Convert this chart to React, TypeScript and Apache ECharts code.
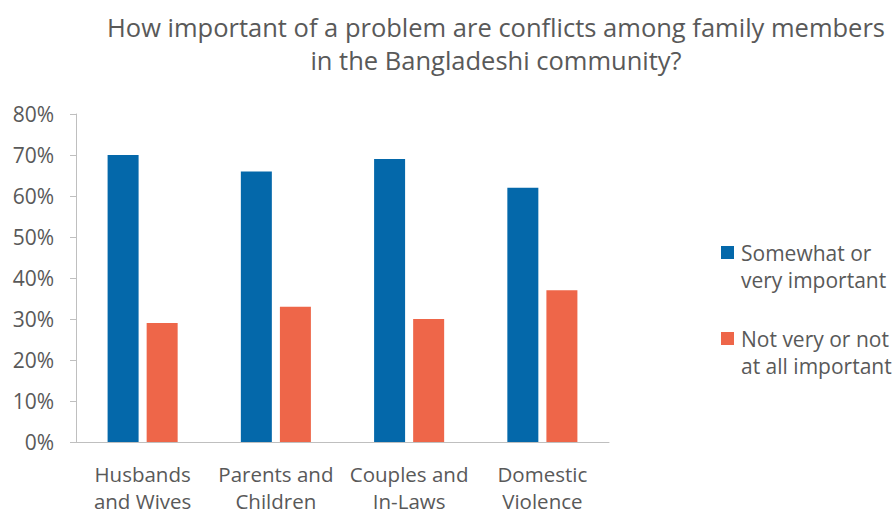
import React, { useEffect, useRef } from "react";
import * as echarts from "echarts";

const titleLines = [
  "How important of a problem are conflicts among family members",
  "in the Bangladeshi community?",
];
const categories = [
  "Husbands\nand Wives",
  "Parents and\nChildren",
  "Couples and\nIn-Laws",
  "Domestic\nViolence",
];
const seriesNames = [
  "Somewhat or\nvery important",
  "Not very or not\nat all important",
];
const importantValues = [70, 66, 69, 62];
const notImportantValues = [29, 33, 30, 37];
const seriesColors = ["#0468AA", "#EE6649"];
const yTicks = [0, 10, 20, 30, 40, 50, 60, 70, 80];

const FONT = "'Open Sans', sans-serif";
const TEXT = "#595959";

export default function App() {
  const ref = useRef<HTMLDivElement>(null);
  useEffect(() => {
    if (!ref.current) return;
    const chart = echarts.init(ref.current, undefined, { renderer: "svg" });
    const legendItems: any[] = [];
    seriesNames.forEach((name, i) => {
      const top = 246 + i * 86;
      legendItems.push({
        type: "rect",
        left: 721,
        top,
        shape: { width: 13, height: 13 },
        style: { fill: seriesColors[i] },
      });
      legendItems.push({
        type: "text",
        left: 741,
        top: top - 7,
        style: {
          text: name,
          fill: TEXT,
          font: `21px ${FONT}`,
          lineHeight: 27.5,
        },
      });
    });
    chart.setOption({
      animation: false,
      backgroundColor: "#ffffff",
      title: {
        text: titleLines.join("\n"),
        left: 491,
        textAlign: "center",
        top: 5,
        textStyle: {
          color: TEXT,
          fontFamily: FONT,
          fontWeight: "normal",
          fontSize: 25.5,
          lineHeight: 33,
        },
      },
      grid: { left: 76, right: 284, top: 114, bottom: 72, containLabel: false },
      xAxis: {
        type: "category",
        data: categories,
        axisLine: { show: true, lineStyle: { color: "#BFBFBF", width: 1 } },
        axisTick: { show: false },
        axisLabel: {
          color: TEXT,
          fontFamily: FONT,
          fontSize: 20.5,
          lineHeight: 27,
          margin: 18,
          interval: 0,
        },
      },
      yAxis: {
        type: "value",
        min: 0,
        max: 80,
        interval: 10,
        axisLine: { show: true, lineStyle: { color: "#BFBFBF", width: 1 } },
        axisTick: { show: true, length: 6, lineStyle: { color: "#BFBFBF" } },
        splitLine: { show: false },
        axisLabel: {
          color: TEXT,
          fontFamily: FONT,
          fontSize: 21,
          margin: 22,
          formatter: (v: number) => (yTicks.includes(v) ? `${v}%` : ""),
        },
      },
      series: [
        {
          name: seriesNames[0],
          type: "bar",
          data: importantValues,
          barWidth: 31,
          barGap: "26%",
          itemStyle: { color: seriesColors[0] },
        },
        {
          name: seriesNames[1],
          type: "bar",
          data: notImportantValues,
          barWidth: 31,
          barGap: "26%",
          itemStyle: { color: seriesColors[1] },
        },
      ],
      graphic: legendItems,
    });
    return () => chart.dispose();
  }, []);
  return (
    <div
      ref={ref}
      style={{ position: "fixed", left: 0, top: 0, width: 893, height: 514 }}
    />
  );
}
